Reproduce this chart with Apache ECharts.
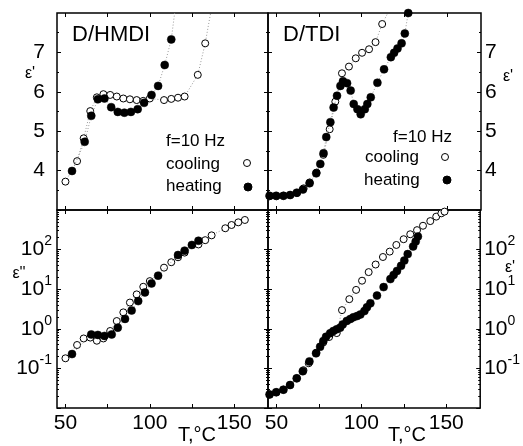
<!DOCTYPE html>
<html>
<head>
<meta charset="utf-8">
<script src="https://cdn.jsdelivr.net/npm/echarts@6/dist/echarts.min.js"></script>
<style>
  html, body { margin: 0; padding: 0; background: #fff; }
  #chart { width: 523px; height: 446px; }
</style>
</head>
<body>
<div id="chart"></div>
<script>
// ---- D/HMDI : real part (top left) ----
const hmdiCoolT   = [50, 56.9, 60.8, 64.7, 68.6, 72.5, 76.5, 80.4, 84.3, 88.2, 92.2, 96.1, 100, 108.4, 112.7, 116.7, 120.6, 128.4, 132.8, 136];
const hmdiCoolEps = [3.72, 4.24, 4.82, 5.51, 5.86, 5.94, 5.92, 5.88, 5.83, 5.81, 5.79, 5.77, 5.83, 5.79, 5.82, 5.85, 5.88, 6.43, 7.23, 8.0];
const hmdiHeatT   = [53.9, 61.4, 65.3, 69.2, 73.1, 77.1, 81, 84.9, 88.8, 92.8, 96.6, 101, 104.9, 108.8, 112.7, 114.7];
const hmdiHeatEps = [3.99, 4.73, 5.39, 5.81, 5.83, 5.61, 5.49, 5.47, 5.49, 5.56, 5.72, 5.92, 6.15, 6.68, 7.33, 8.0];

// ---- D/HMDI : loss (bottom left) ----
const hmdiCoolLT   = [50, 56.9, 60.8, 64.7, 68.6, 72.5, 76.5, 80.4, 84.3, 88.2, 92.2, 96.1, 100, 108.4, 112.7, 116.7, 120.6, 128.8, 132.8, 136.6, 144.7, 148.4, 152.4, 156.3];
const hmdiCoolLoss = [0.18, 0.39, 0.57, 0.60, 0.50, 0.57, 0.88, 1.57, 2.6, 4.6, 7.4, 11.5, 16, 35, 48, 64, 84, 135, 173, 229, 346, 418, 488, 560];
const hmdiHeatLT   = [53.9, 65.3, 69.2, 73.1, 77.4, 81, 85.3, 89.2, 93.1, 97.1, 101, 104.9, 116.7, 120.6, 124.9, 128.8];
const hmdiHeatLoss = [0.23, 0.72, 0.70, 0.66, 0.72, 1.07, 1.78, 2.9, 5.0, 8.3, 14, 22, 73, 94, 131, 167];

// ---- D/TDI : real part (top right) ----
const tdiCoolT   = [46, 50, 54, 58, 62, 65.9, 69.5, 73.5, 77.5, 81.2, 84.5, 88.4, 92.5, 96.5, 100.2, 104.3, 108.1, 112, 115.3];
const tdiCoolEps = [3.35, 3.35, 3.36, 3.38, 3.43, 3.55, 3.70, 3.95, 4.40, 5.05, 5.75, 6.47, 6.64, 6.85, 6.99, 7.08, 7.26, 7.72, 8.0];
const tdiHeatT   = [45.9, 49.8, 54.1, 58, 61.9, 65.5, 69.4, 73.3, 75.7, 77.6, 79.2, 81.6, 83.5, 85.5, 87.5, 89, 91.4, 93.5, 95.3, 97.5, 99.4, 101.8, 103.3, 105.3, 109.2, 113.1, 117.1, 119, 121, 123.4, 125.3, 127.3];
const tdiHeatEps = [3.36, 3.36, 3.36, 3.38, 3.44, 3.52, 3.68, 3.93, 4.17, 4.44, 4.85, 5.23, 5.60, 5.90, 6.15, 6.27, 6.22, 6.03, 5.69, 5.56, 5.43, 5.56, 5.69, 5.86, 6.23, 6.57, 6.88, 6.99, 7.10, 7.23, 7.48, 8.0];

// ---- D/TDI : loss (bottom right) ----
const tdiCoolLT   = [46, 50, 54, 58, 62, 65.9, 69, 73.5, 77.5, 81, 85.5, 88.6, 92.9, 96.9, 100.4, 104.3, 108.4, 112.7, 116.7, 120.6, 124.9, 128.8, 132.8, 136.3, 140.6, 144.1, 147.1, 149];
const tdiCoolLoss = [0.022, 0.025, 0.029, 0.038, 0.056, 0.09, 0.135, 0.25, 0.45, 0.62, 0.78, 2.96, 5.6, 9.6, 16.4, 27, 42, 65, 89, 131, 183, 244, 310, 400, 525, 680, 825, 910];
const tdiHeatLT   = [45.9, 49.8, 54.1, 58, 61.9, 65.5, 69.4, 73.3, 75.7, 77.6, 79.2, 81.6, 83.5, 85.5, 87.5, 89, 91.4, 93.5, 95.3, 97.5, 99.4, 101.8, 103.3, 105.3, 109.2, 113.1, 117.1, 119, 121, 123.4, 125.3, 127.3, 130.5, 132, 133.3];
const tdiHeatLoss = [0.022, 0.025, 0.029, 0.038, 0.056, 0.085, 0.15, 0.24, 0.35, 0.49, 0.63, 0.77, 0.88, 0.97, 1.07, 1.29, 1.58, 1.77, 1.95, 2.1, 2.3, 2.8, 3.5, 4.4, 6.9, 11.3, 18, 23, 29, 39, 53, 77, 120, 160, 214];

// Ticks and labels
const tempTicks = [50, 75, 100, 125, 150];
const tempLabels = [50, 100, 150];
const epsTicks = [4, 5, 6, 7];
const panelTitles = ['D/HMDI', 'D/TDI'];
const freqText = 'f=10 Hz';
const seriesNames = ['cooling', 'heating'];

const FONT = '"Liberation Sans", Arial, Helvetica, sans-serif';

// Dotted guide lines reaching the top frame are the last points of the ε' lists;
// they carry no marker.
function pairs(xs, ys, guideLast) {
  return xs.map((x, i) => {
    if (guideLast && i === xs.length - 1) return { value: [x, ys[i]], symbol: 'none' };
    return [x, ys[i]];
  });
}

// Panel frames (pixels)
const grids = [
  { left: 57,  top: 13,  width: 211, height: 197 },   // top left
  { left: 268, top: 13,  width: 213, height: 197 },   // top right
  { left: 57,  top: 210, width: 211, height: 198 },   // bottom left
  { left: 268, top: 210, width: 213, height: 198 }    // bottom right
].map(g => Object.assign({ show: true, borderColor: '#000', borderWidth: 1.5, backgroundColor: 'transparent', containLabel: false }, g));

const xAxes = [];
const yAxes = [];
for (let g = 0; g < 4; g++) {
  const bottomRow = g >= 2;
  ['bottom', 'top'].forEach(pos => {
    const showLab = bottomRow && pos === 'bottom';
    xAxes.push({
      type: 'value', gridIndex: g, position: pos, min: 45, max: 170,
      axisLine: { show: false },
      splitLine: { show: false },
      axisTick: { show: true, inside: true, length: 4, customValues: tempTicks, lineStyle: { color: '#000', width: 1 } },
      axisLabel: { show: showLab, customValues: tempLabels, color: '#000', fontSize: 21, fontFamily: FONT, margin: 5 }
    });
  });
  const rightCol = g % 2 === 1;
  ['left', 'right'].forEach(pos => {
    const showLab = (pos === 'left' && !rightCol) || (pos === 'right' && rightCol);
    if (!bottomRow) {
      yAxes.push({
        type: 'value', gridIndex: g, position: pos, min: 3, max: 8, interval: 1,
        axisLine: { show: false },
        splitLine: { show: false },
        axisTick: { show: true, inside: true, length: 4, customValues: epsTicks, lineStyle: { color: '#000', width: 1 } },
        minorTick: { show: true, splitNumber: 2, length: 2, lineStyle: { color: '#000', width: 1 } },
        axisLabel: { show: showLab, customValues: epsTicks, color: '#000', fontSize: 21, fontFamily: FONT, margin: pos === 'left' ? 12 : 4 }
      });
    } else {
      yAxes.push({
        type: 'log', logBase: 10, gridIndex: g, position: pos, min: 0.01, max: 1000,
        axisLine: { show: false },
        splitLine: { show: false },
        axisTick: { show: true, inside: true, length: 4, lineStyle: { color: '#000', width: 1 } },
        minorTick: { show: true, splitNumber: 9, length: 2, lineStyle: { color: '#000', width: 1 } },
        axisLabel: {
          show: showLab, showMinLabel: false, showMaxLabel: false,
          margin: pos === 'left' ? 5 : 4,
          formatter: v => {
            const e = Math.round(Math.log10(v));
            if (e <= -2 || e >= 3) return '';
            return '{b|10}{s|' + (e < 0 ? '-' + (-e) : e) + '}';
          },
          rich: {
            b: { fontSize: 21, fontFamily: FONT, color: '#000', lineHeight: 30 },
            s: { fontSize: 14, fontFamily: FONT, color: '#000', lineHeight: 12, verticalAlign: 'top' }
          }
        }
      });
    }
  });
}

function makeSeries(g, coolXY, heatXY) {
  const axisIdx = { xAxisIndex: g * 2, yAxisIndex: g * 2 };
  const dotted = { color: '#9a9a9a', width: 1, type: [1, 2] };
  return [
    Object.assign({
      name: seriesNames[0], type: 'line', data: coolXY, clip: true,
      symbol: 'circle', symbolSize: 7, showSymbol: true, showAllSymbol: true,
      lineStyle: dotted,
      itemStyle: { color: '#fff', borderColor: '#000', borderWidth: 1 },
      emphasis: { disabled: true }, animation: false, z: 3
    }, axisIdx),
    Object.assign({
      name: seriesNames[1], type: 'line', data: heatXY, clip: true,
      symbol: 'circle', symbolSize: 8, showSymbol: true, showAllSymbol: true,
      lineStyle: dotted,
      itemStyle: { color: '#000', borderColor: '#000', borderWidth: 0.5 },
      emphasis: { disabled: true }, animation: false, z: 4
    }, axisIdx)
  ];
}

const series = [].concat(
  makeSeries(0, pairs(hmdiCoolT, hmdiCoolEps, true), pairs(hmdiHeatT, hmdiHeatEps, true)),
  makeSeries(1, pairs(tdiCoolT, tdiCoolEps, true), pairs(tdiHeatT, tdiHeatEps, false)),
  makeSeries(2, pairs(hmdiCoolLT, hmdiCoolLoss, false), pairs(hmdiHeatLT, hmdiHeatLoss, false)),
  makeSeries(3, pairs(tdiCoolLT, tdiCoolLoss, false), pairs(tdiHeatLT, tdiHeatLoss, false))
);

function txt(x, y, text, size, align) {
  return {
    type: 'text', x: x, y: y, silent: true, z: 10,
    style: { text: text, fontSize: size, fontFamily: FONT, fill: '#000', align: align || 'left', verticalAlign: 'middle' }
  };
}
function dot(x, y, filled, r) {
  return {
    type: 'circle', x: x, y: y, silent: true, z: 10,
    shape: { r: r },
    style: { fill: filled ? '#000' : '#fff', stroke: '#000', lineWidth: 1 }
  };
}

const graphic = [
  txt(72, 35, panelTitles[0], 22),
  txt(283, 35, panelTitles[1], 22),
  txt(166, 141, freqText, 17),
  txt(166, 164, seriesNames[0], 17),
  txt(166, 186, seriesNames[1], 17),
  dot(247, 163, false, 3.5),
  dot(248, 187, true, 4),
  txt(393, 137, freqText, 17),
  txt(365, 157, seriesNames[0], 17),
  txt(364, 180, seriesNames[1], 17),
  dot(445, 157, false, 3.5),
  dot(447, 180, true, 4),
  // axis titles
  txt(30, 74, "ε'", 16, 'center'),
  txt(19, 274, "ε''", 16, 'center'),
  txt(508, 77, "ε'", 16, 'center'),
  txt(510, 268, "ε'", 16, 'center'),
  txt(197, 435, 'T,°C', 20, 'center'),
  txt(407, 435, 'T,°C', 20, 'center')
];

const chart = echarts.init(document.getElementById('chart'), null, { renderer: 'canvas' });
chart.setOption({
  backgroundColor: '#fff',
  animation: false,
  grid: grids,
  xAxis: xAxes,
  yAxis: yAxes,
  series: series,
  graphic: graphic
});
</script>
</body>
</html>
